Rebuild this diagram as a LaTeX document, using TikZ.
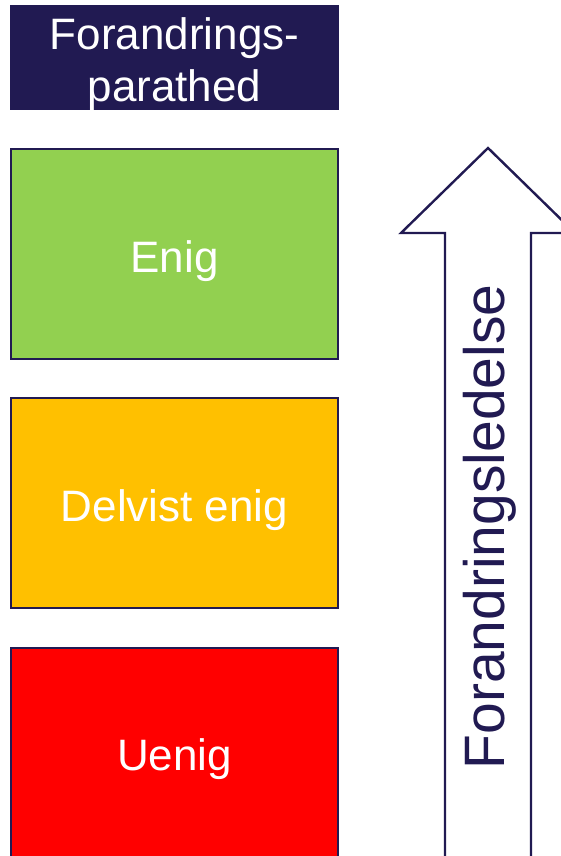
\documentclass[tikz,border=0pt]{standalone}
\usepackage{fontspec}
\setmainfont{Liberation Sans}
\definecolor{navy}{HTML}{211A52}
\definecolor{levelgreen}{HTML}{92D050}
\definecolor{levelyellow}{HTML}{FFC000}
\definecolor{levelred}{HTML}{FF0000}
\tikzset{
  level/.style={draw=navy, line width=2pt, minimum width=327pt, minimum height=210pt,
    inner sep=0pt},
  header/.style={fill=navy, draw=navy, line width=1pt, minimum width=328pt, minimum height=104pt,
    inner sep=0pt},
  boxtext/.style={inner sep=0pt, text=white, align=center, font=\fontsize{44}{52}\selectfont},
  bigarrow/.style={draw=navy, line width=2.4pt, fill=white, line join=miter},
}
\begin{document}
\begin{tikzpicture}[x=1pt,y=-1pt]
  \useasboundingbox (0,0) rectangle (561,856);
  \clip (0,0) rectangle (561,856);
  \fill[white] (0,0) rectangle (561,856);

  % heading box
  \node[header] (head) at (174.5,57.5) {};
  \node[boxtext] (headtext) at ([yshift=-6.5pt]head.center) {Forandrings-\\parathed};

  % readiness levels
  \node[level, fill=levelgreen]  (enig)   at (174.5,254) {};
  \node[level, fill=levelyellow] (delvis) at (174.5,503) {};
  \node[level, fill=levelred]    (uenig)  at (174.5,753) {};
  \node[boxtext] (enigtext)   at ([yshift=-7pt]enig.center)   {Enig};
  \node[boxtext] (delvistext) at ([yshift=-7.5pt]delvis.center) {Delvist enig};
  \node[boxtext] (uenigtext)  at ([yshift=-6pt]uenig.center)  {Uenig};

  % upward arrow for change management
  \draw[bigarrow] (488,148) -- (575,233) -- (531,233) -- (531,880)
    -- (445,880) -- (445,233) -- (401,233) -- cycle;
  \node[rotate=90, text=navy, font=\fontsize{57}{60}\selectfont, inner sep=0pt]
    (ledelse) at (490,527) {Forandringsledelse};
\end{tikzpicture}
\end{document}
